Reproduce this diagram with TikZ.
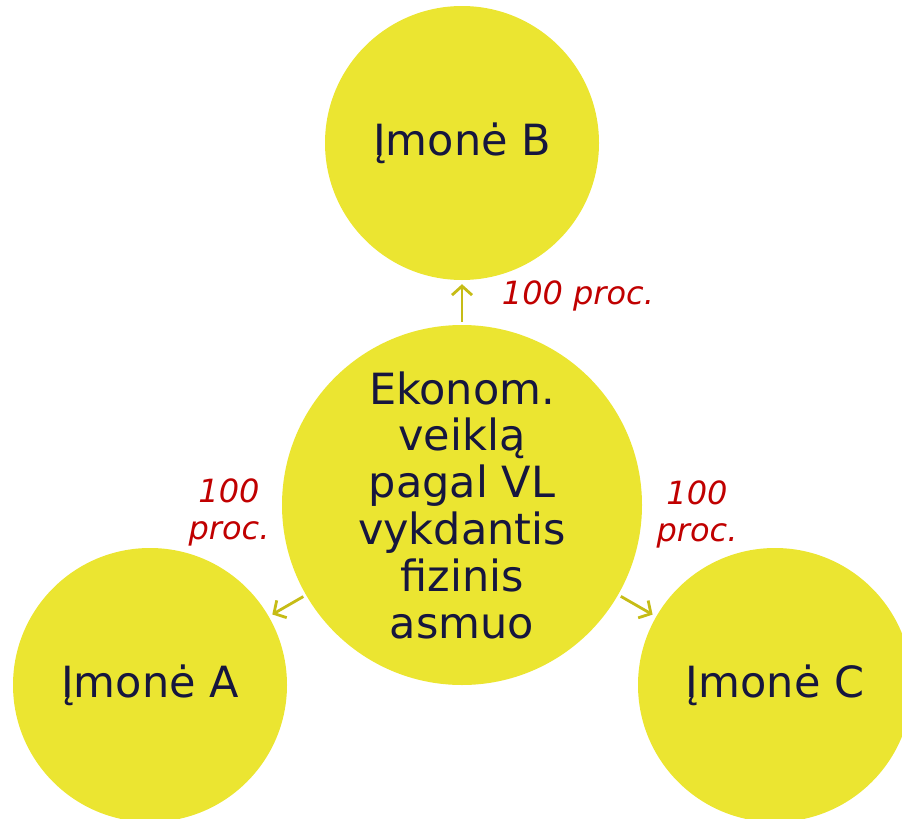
\documentclass[tikz,border=0pt]{standalone}
\usepackage{fontspec}
\setmainfont{DejaVu Sans}
\usetikzlibrary{arrows.meta}
\definecolor{circfill}{HTML}{EBE531}
\definecolor{arrcol}{HTML}{C6BC16}
\definecolor{labred}{HTML}{C00000}
\definecolor{navy}{HTML}{16163E}
\tikzset{
  bigcirc/.style={circle, fill=circfill, inner sep=0pt, text=navy, align=center,
    font=\fontsize{43}{46.8}\selectfont},
  pct/.style={text=labred, align=center, font=\fontsize{32}{37}\selectfont\itshape},
  arr/.style={draw=arrcol, line width=2.8pt, -{Straight Barb[length=9pt,width=20pt,line width=2.8pt]}, shorten <=3pt, shorten >=4pt}
}
\begin{document}
\begin{tikzpicture}[x=1pt,y=-1pt]
\useasboundingbox (0,0) rectangle (902,819);
\begin{scope}
\clip (0,0) rectangle (902,819);
\node[bigcirc, minimum size=274pt] (B) at (462,143) {Įmonė B};
\node[bigcirc, minimum size=360pt] (M) at (462,505) {Ekonom.\\veiklą\\pagal VL\\vykdantis\\fizinis\\asmuo};
\node[bigcirc, minimum size=274pt] (A) at (150,685) {Įmonė A};
\node[bigcirc, minimum size=274pt] (C) at (775,685) {Įmonė C};
\end{scope}
\draw[arr] (M) -- (B);
\draw[arr] (M) -- (A);
\draw[arr] (M) -- (C);
\node[pct] (lb) at (578,296) {100 proc.};
\node[pct] (la) at (229,512) {100\\proc.};
\node[pct] (lc) at (697,514) {100\\proc.};
\end{tikzpicture}
\end{document}
